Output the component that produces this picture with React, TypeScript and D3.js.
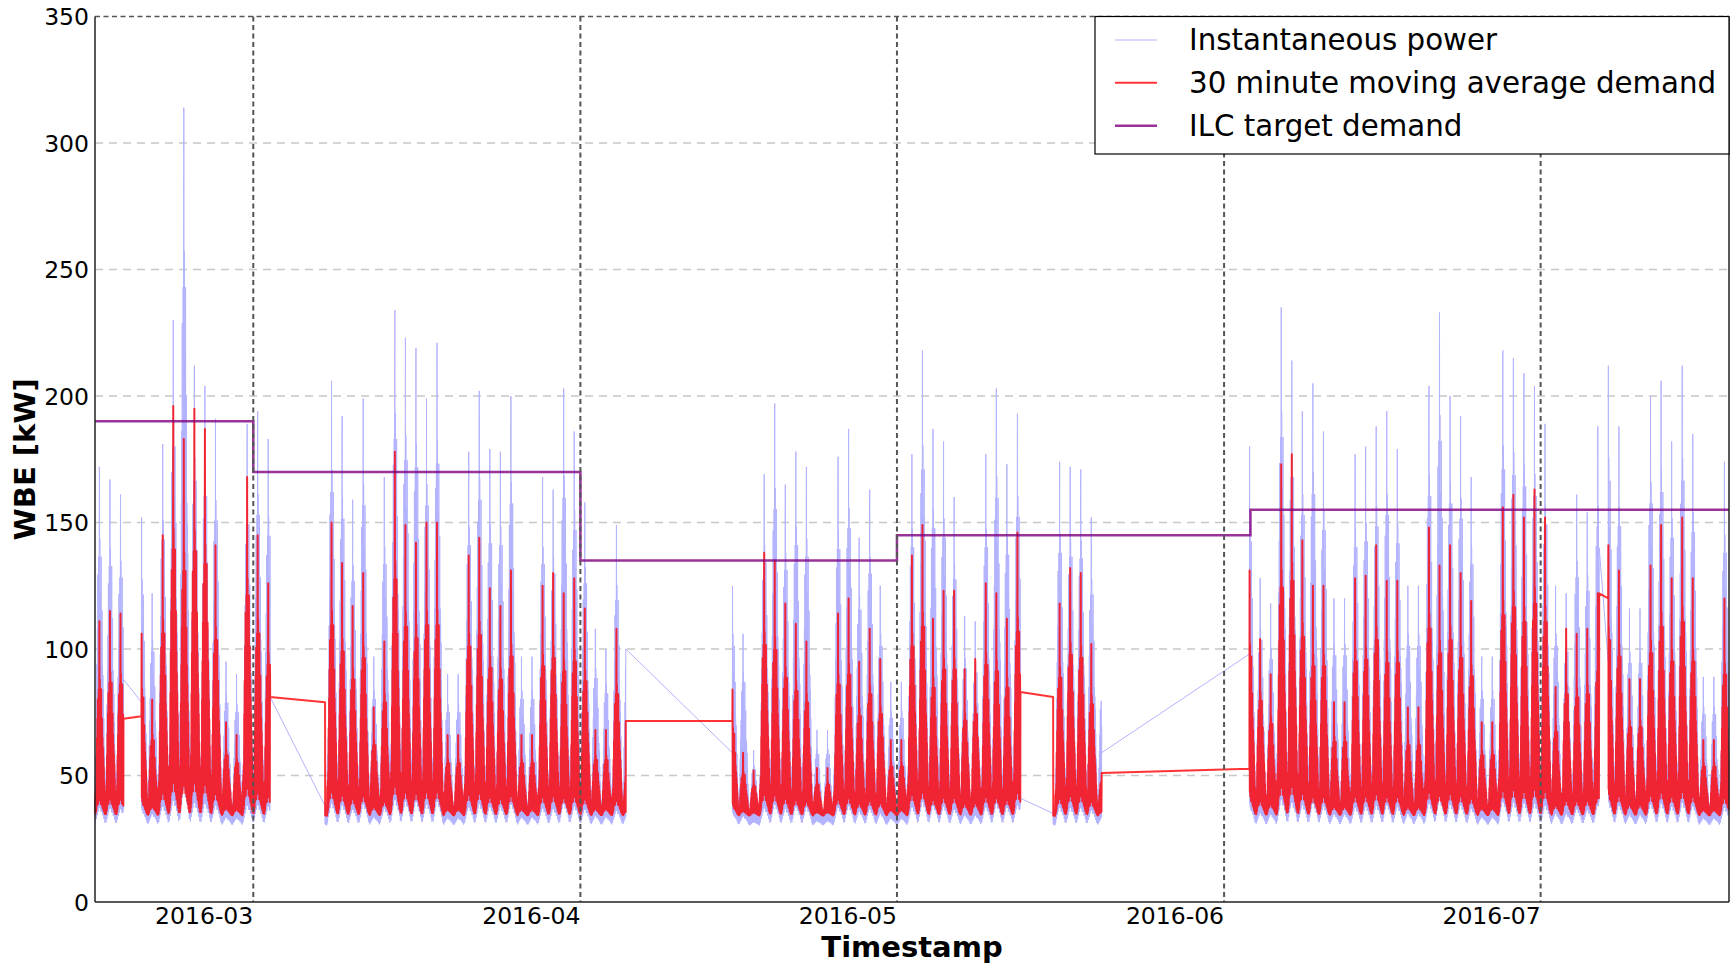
import * as d3 from "d3";

// days are counted from 2016-02-15 00:00 UTC
const DAY_MS = 86400000;
const startTime = Date.UTC(2016, 1, 15);
const lastDay = 154.85;

// spans of days with logged data (gaps are joined by straight lines)
const dataSegments: [number, number][] = [
  [0, 2.7], [4.4, 16.6], [21.8, 50.3], [60.4, 87.7], [90.8, 95.4], [109.4, 142.55], [143.4, 154.85],
];
// values at the two ends of each gap [before, after]
const powerGapEnds = [[88, 79], [81, 38], [100, 59], [41, 35], [59, 98], [140, 95]];
const demandGapEnds = [[72.4, 73.4], [81, 79], [71.5, 71.5], [83, 81], [51, 52.7], [122, 120]];

// daily peak of instantaneous power (kW), null = no data that day
const powerPeaks: (number | null)[] = [
  172, 167, 161, null, 152, 122, 181,
  230, 314, 212, 204, 191, 95, 90,
  189, 194, 183, null, null, null, null,
  60, 206, 192, 159, 199, 97, 168,
  234, 223, 219, 199, 221, 90, 90,
  178, 202, 179, 178, 200, 97, 97,
  168, 163, 203, 186, 158, 108, 100,
  149, 119, null, null, null, null, null,
  null, null, null, null, 125, 106, 60,
  169, 197, 165, 178, 172, 68, 68,
  176, 187, 144, 163, 125, 87, 87,
  177, 218, 187, 182, 160, 113, 111,
  177, 203, 173, 193, null, null, 60,
  174, 172, 171, 152, 96, null, null,
  null, null, null, null, null, null, null,
  null, null, null, null, 180, 128, 118,
  235, 214, 194, 205, 186, 120, 120,
  177, 180, 188, 194, 179, 125, 125,
  204, 233, 200, 192, 168, 97, 97,
  218, 215, 209, 204, 189, 125, 122,
  161, 154, 188, 212, 188, 116, 116,
  200, 206, 182, 212, 185, 89, 89,
  174,
];

// daily peak of the 30 minute moving average demand (kW)
const demandPeaks: (number | null)[] = [
  111, 115, 114, null, 106, 80, 145,
  196, 183, 195, 187, 141, 71, 66,
  168, 145, 126, null, null, null, null,
  45, 150, 134, 117, 130, 77, 103,
  178, 149, 142, 150, 150, 66, 66,
  137, 144, 124, 117, 131, 66, 66,
  125, 130, 122, 128, 116, 68, 68,
  108, 60, null, null, null, null, null,
  null, null, null, null, 84, 59, 52,
  138, 135, 118, 110, 103, 53, 53,
  114, 120, 95, 108, 96, 64, 64,
  137, 149, 112, 123, 123, 92, 96,
  126, 122, 112, 146, null, null, 40,
  118, 132, 130, 102, 55, null, null,
  null, null, null, null, null, null, null,
  null, null, null, null, 131, 104, 90,
  173, 177, 143, 125, 125, 79, 79,
  128, 129, 141, 127, 127, 77, 77,
  148, 133, 141, 130, 119, 71, 71,
  156, 161, 152, 163, 152, 85, 108,
  106, 108, 122, 141, 131, 88, 88,
  133, 149, 128, 152, 128, 64, 64,
  120,
];

// typical half-hourly profile of a day, as share of (peak - floor)
const powerDayShape = [
  0.02, 0.14, 0.01, 0.16, 0.03, 0.2,
  0.02, 0.35, 0.04, 0.45, 0.03, 0.55,
  0.05, 0.7, 0.04, 0.5, 0.06, 0.75,
  0.05, 0.6, 1.0, 0.06, 0.8, 0.05,
  0.65, 0.06, 0.55, 0.04, 0.75, 0.05,
  0.5, 0.04, 0.6, 0.05, 0.45, 0.03,
  0.42, 0.04, 0.38, 0.03, 0.3, 0.02,
  0.22, 0.02, 0.16, 0.01, 0.12, 0.02,
];
const demandDayShape = [
  0.02, 0.1, 0.01, 0.12, 0.02, 0.15,
  0.03, 0.3, 0.05, 0.4, 0.06, 0.5,
  0.08, 0.6, 0.06, 0.45, 0.1, 0.65,
  0.08, 0.55, 1.0, 0.1, 0.7, 0.08,
  0.55, 0.08, 0.5, 0.06, 0.65, 0.07,
  0.45, 0.06, 0.5, 0.05, 0.4, 0.04,
  0.35, 0.04, 0.3, 0.03, 0.25, 0.02,
  0.18, 0.02, 0.12, 0.01, 0.08, 0.01,
];
const powerFloor = 30;
const demandFloor = 34;

// ILC target demand: [start day, kW]
const targetSteps: [number, number][] = [[0, 190], [15, 170], [46, 135], [76, 145], [109.5, 155], [lastDay, 155]];

const yTicks = [0, 50, 100, 150, 200, 250, 300, 350];
const legendItems = [
  { label: "Instantaneous power", color: "#b3b3ff", width: 1 },
  { label: "30 minute moving average demand", color: "#ff3333", width: 2 },
  { label: "ILC target demand", color: "#993399", width: 2.5 },
];

const toDate = (d: number) => new Date(startTime + d * DAY_MS);

function buildSeries(peaks: (number | null)[], shape: number[], floor: number, gapEnds: number[][]) {
  const pts: [number, number][] = [];
  dataSegments.forEach(([s, e], i) => {
    if (i > 0) pts.push([s, gapEnds[i - 1][1]]);
    const first = Math.ceil(s * 48);
    const last = Math.floor(e * 48);
    for (let k = first; k <= last; k++) {
      const day = Math.floor(k / 48);
      const peak = peaks[day] ?? floor;
      pts.push([k / 48, floor + shape[k % 48] * (peak - floor)]);
    }
    if (i < dataSegments.length - 1) pts.push([e, gapEnds[i][0]]);
  });
  return pts;
}

export default function App() {
  const width = 1735;
  const height = 964;
  const margin = { top: 16.5, right: 6, bottom: 62, left: 95 };
  const left = margin.left;
  const right = width - margin.right;
  const top = margin.top;
  const bottom = height - margin.bottom;

  const x = d3.scaleUtc().domain([toDate(0), toDate(lastDay)]).range([left, right]);
  const y = d3.scaleLinear().domain([0, 350]).range([bottom, top]);

  const line = d3
    .line<[number, number]>()
    .x((d) => x(toDate(d[0])))
    .y((d) => y(d[1]));
  const stepLine = d3
    .line<[number, number]>()
    .x((d) => x(toDate(d[0])))
    .y((d) => y(d[1]))
    .curve(d3.curveStepAfter);

  const power = buildSeries(powerPeaks, powerDayShape, powerFloor, powerGapEnds);
  const demand = buildSeries(demandPeaks, demandDayShape, demandFloor, demandGapEnds);
  const months = d3.utcMonth.range(toDate(0), toDate(lastDay));
  const fmt = d3.utcFormat("%Y-%m");
  const font = "DejaVu Sans";

  const legX = 1095;
  const legRowY = [40, 82.7, 125.7];

  return (
    <svg
      width={width}
      height={height}
      style={{ position: "absolute", left: 0, top: 0, background: "#fff" }}
      fontFamily={font}
    >
      <rect x={0} y={0} width={width} height={height} fill="#fff" />
      {yTicks.slice(1, -1).map((v) => (
        <line key={v} x1={left} x2={right} y1={y(v)} y2={y(v)} stroke="#c8c8c8" strokeWidth={1.5} strokeDasharray="8,6" />
      ))}
      <path d={line(power) ?? ""} fill="none" stroke="#b3b3ff" strokeWidth={1} />
      <path d={line(demand) ?? ""} fill="none" stroke="#ff0000" strokeOpacity={0.8} strokeWidth={2} strokeLinejoin="round" />
      <path d={stepLine(targetSteps) ?? ""} fill="none" stroke="#800080" strokeOpacity={0.8} strokeWidth={2.5} />
      {months.map((m) => (
        <line key={+m} x1={x(m)} x2={x(m)} y1={top} y2={bottom} stroke="#555" strokeWidth={2} strokeDasharray="5,3.5" />
      ))}
      <line x1={left} x2={right} y1={top} y2={top} stroke="#555" strokeWidth={1.5} strokeDasharray="5,3.5" />
      <line x1={left} x2={left} y1={top} y2={bottom} stroke="#222" strokeWidth={1.5} />
      <line x1={right} x2={right} y1={top} y2={bottom} stroke="#222" strokeWidth={1.5} />
      <line x1={left} x2={right} y1={bottom} y2={bottom} stroke="#222" strokeWidth={1.5} />

      {yTicks.map((v) => (
        <text key={v} x={left - 6} y={y(v) + 8.5} textAnchor="end" fontSize={23.5}>
          {v}
        </text>
      ))}
      {months.map((m) => (
        <text key={+m} x={x(m)} y={924} textAnchor="end" fontSize={23.5}>
          {fmt(m)}
        </text>
      ))}
      <text x={(left + right) / 2} y={957} textAnchor="middle" fontSize={29} fontWeight="bold">
        Timestamp
      </text>
      <text transform={`translate(35,${(top + bottom) / 2}) rotate(-90)`} textAnchor="middle" fontSize={29} fontWeight="bold">
        WBE [kW]
      </text>

      <rect x={legX} y={top} width={right - legX} height={154 - top} fill="#fff" stroke="#000" strokeWidth={1.2} />
      {legendItems.map((it, i) => (
        <g key={it.label}>
          <line x1={1115} x2={1157} y1={legRowY[i]} y2={legRowY[i]} stroke={it.color} strokeWidth={it.width} />
          <text x={1189} y={legRowY[i] + 10} fontSize={29.3}>
            {it.label}
          </text>
        </g>
      ))}
    </svg>
  );
}
